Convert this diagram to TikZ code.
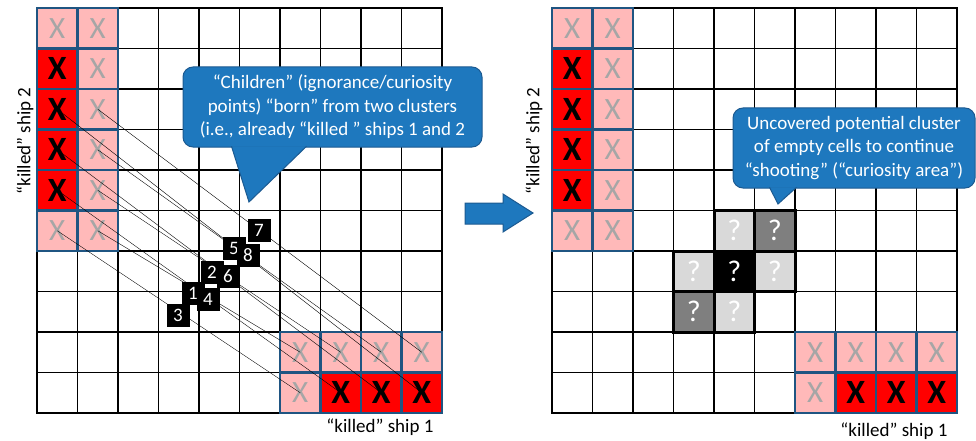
\documentclass[tikz,border=0pt]{standalone}
\usepackage{fontspec}
\setmainfont{Carlito}
\usetikzlibrary{calc}
\definecolor{hitred}{RGB}{255,0,0}
\definecolor{misspink}{RGB}{255,185,185}
\definecolor{shipedge}{RGB}{31,85,130}
\definecolor{xgray}{RGB}{166,166,166}
\definecolor{balloonblue}{RGB}{30,120,190}
\definecolor{balloonedge}{RGB}{28,90,145}
\definecolor{qlight}{RGB}{217,217,217}
\definecolor{qdark}{RGB}{127,127,127}
\tikzset{
    cell/.style = {draw, line width = 1.8pt, minimum size = 40.5pt, inner sep = 0pt, outer sep = 0pt},
    shipcell/.style = {cell, draw = shipedge, line width = 2.6pt},
    hit/.style = {shipcell, fill = hitred, font = \fontsize{34}{34}\selectfont\bfseries},
    miss/.style = {shipcell, fill = misspink, text = xgray, font = \fontsize{31}{31}\selectfont},
    guess/.style = {cell, line width = 3pt, text = white, font = \fontsize{30}{30}\selectfont},
    child/.style = {fill = black, text = white, minimum size = 23pt, inner sep = 0pt, font = \fontsize{19}{19}\selectfont},
    link/.style = {draw, line width = 0.4pt},
    balloon/.style = {fill = balloonblue, draw = balloonedge, line width = 1pt, rounded corners = 10pt,
        text = white, align = center, font = \fontsize{19}{23.5}\selectfont},
    pointer/.style = {fill = balloonblue, draw = balloonedge, line width = 1pt},
    axis text/.style = {font = \fontsize{19}{19}\selectfont},
}

\begin{document}
\begin{tikzpicture}[x = 1pt, y = 1pt]
    \useasboundingbox (0, 0) rectangle (976, -441);

    % the two 10x10 boards
    \foreach \g/\ox in {L/37, R/552}
        \foreach \c in {0,...,9}
            \foreach \r in {0,...,9}
                \node[cell] (\g-\c-\r) at ({\ox + 20.25 + 40.5*\c}, {-28.25 - 40.5*\r}) {};

    % killed ships 2 and 1 on both boards
    \foreach \g in {L, R} {
        \foreach \r in {0, 5} \node[miss] (\g-s-0-\r) at (\g-0-\r) {X};
        \foreach \r in {0,...,5} \node[miss] (\g-s-1-\r) at (\g-1-\r) {X};
        \foreach \r in {1,...,4} \node[hit] (\g-s-0-\r) at (\g-0-\r) {X};
        \foreach \c in {6,...,9} \node[miss] (\g-s-\c-8) at (\g-\c-8) {X};
        \node[miss] (\g-s-6-9) at (\g-6-9) {X};
        \foreach \c in {7,...,9} \node[hit] (\g-s-\c-9) at (\g-\c-9) {X};
    }

    % pairs of cells
    \draw[link] (L-s-0-2.center) -- (L-s-9-9.center);
    \draw[link] (L-s-1-2.center) -- (L-s-9-8.center);
    \draw[link] (L-s-0-3.center) -- (L-s-8-9.center);
    \draw[link] (L-s-1-3.center) -- (L-s-8-8.center);
    \draw[link] (L-s-0-4.center) -- (L-s-7-9.center);
    \draw[link] (L-s-1-4.center) -- (L-s-7-8.center);
    \draw[link] (L-s-0-5.center) -- (L-s-6-9.center);
    \draw[link] (L-s-1-5.center) -- (L-s-6-8.center);

    % children
    \node[child] (c3) at (178, -315) {3};
    \node[child] (c1) at (193, -293) {1};
    \node[child] (c4) at (208, -299) {4};
    \node[child] (c2) at (212, -272) {2};
    \node[child] (c6) at (228, -276) {6};
    \node[child] (c5) at (234, -248) {5};
    \node[child] (c8) at (248, -255) {8};
    \node[child] (c7) at (259, -230) {7};

    % curiosity area
    \node[guess, fill = qlight] (q-4-5) at (R-4-5) {?};
    \node[guess, fill = qdark] (q-5-5) at (R-5-5) {?};
    \node[guess, fill = qlight] (q-3-6) at (R-3-6) {?};
    \node[guess, fill = black] (q-4-6) at (R-4-6) {?};
    \node[guess, fill = qlight] (q-5-6) at (R-5-6) {?};
    \node[guess, fill = qdark] (q-3-7) at (R-3-7) {?};
    \node[guess, fill = qlight] (q-4-7) at (R-4-7) {?};

    % labels
    \node[axis text, rotate = 90] (ship2 L) at (25, -141) {“killed” ship 2};
    \node[axis text, rotate = 90] (ship2 R) at (534, -141) {“killed” ship 2};
    \node[axis text] (ship1 L) at (380, -427) {“killed” ship 1};
    \node[axis text] (ship1 R) at (894, -431) {“killed” ship 1};

    % step arrow
    \path[pointer] (465, -203) -- (503, -203) -- (503, -194) -- (533, -213)
        -- (503, -232) -- (503, -224) -- (465, -224) -- cycle;

    % callouts
    \node[balloon, minimum width = 299pt, minimum height = 80pt] (children) at (332.5, -107)
        {“Children” (ignorance/curiosity\\points) “born” from two clusters\\(i.e., already “killed ” ships 1 and 2};
    \coordinate (children tip) at (249, -202);
    \path[pointer] ($(children.south west) + (49, 1.2)$) -- (children tip) -- ($(children.south west) + (124, 1.2)$);

    \node[balloon, minimum width = 242pt, minimum height = 80pt] (curiosity) at (854, -148)
        {Uncovered potential cluster\\of empty cells to continue\\“shooting” (“curiosity area”)};
    \coordinate (curiosity tip) at (778, -204);
    \path[pointer] ($(curiosity.south west) + (37, 1.2)$) -- (curiosity tip) -- ($(curiosity.south west) + (64, 1.2)$);
\end{tikzpicture}
\end{document}
